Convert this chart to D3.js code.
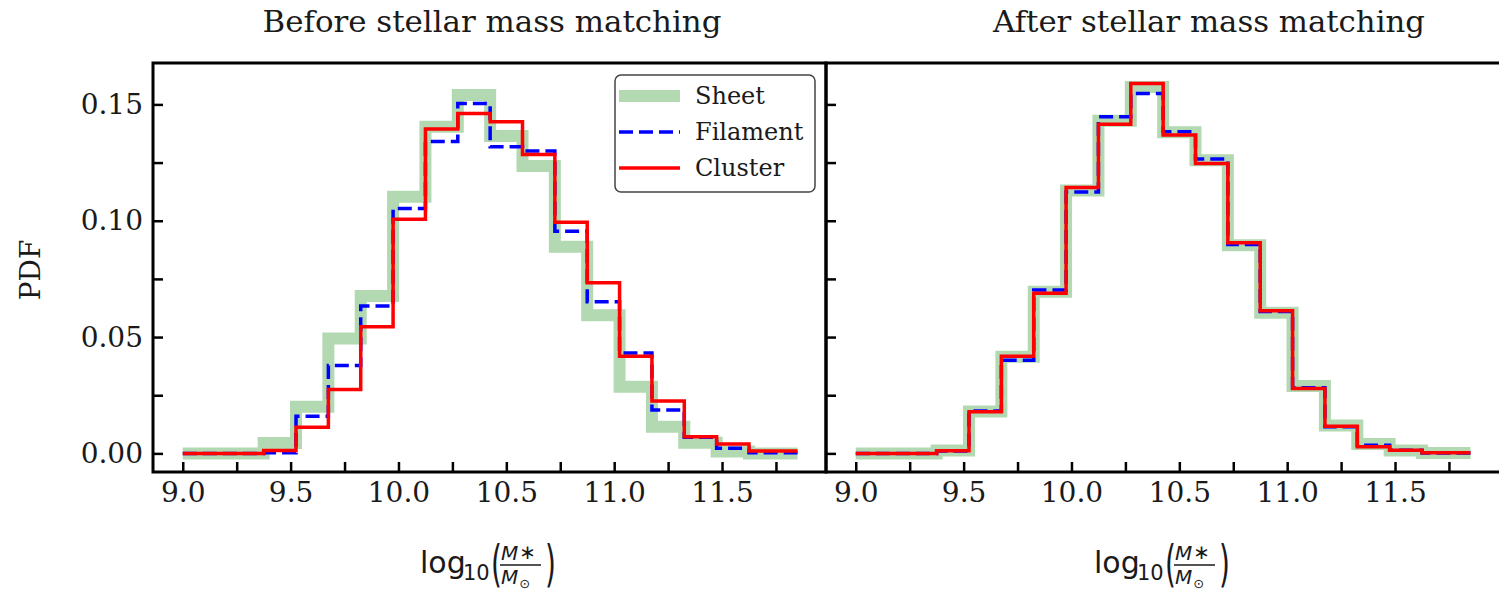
<!DOCTYPE html>
<html>
<head>
<meta charset="utf-8">
<script src="https://cdn.jsdelivr.net/npm/d3@7"></script>
<style>
  body { margin: 0; background: #fff; }
  svg { display: block; }
</style>
</head>
<body>
<script>
// bin edges shared by every histogram (the first and last bins are wider)
var binEdges = [9.0, 9.375, 9.525, 9.675, 9.825, 9.975, 10.125, 10.275, 10.425, 10.575,
    10.725, 10.875, 11.025, 11.175, 11.325, 11.475, 11.625, 11.85];

// before stellar mass matching
var sheetBefore = [0, 0.0045, 0.0200, 0.0494, 0.0676, 0.1103, 0.1404, 0.1540, 0.1364, 0.1235,
    0.0888, 0.0594, 0.0286, 0.0114, 0.0046, 0.0008, 0.0];
var filamentBefore = [0, 0.0003, 0.0160, 0.0378, 0.0633, 0.1053, 0.1341, 0.1504, 0.1318, 0.1300,
    0.0955, 0.0652, 0.0432, 0.0186, 0.0069, 0.0022, 0.0003];
var clusterBefore = [0, 0.0012, 0.0112, 0.0275, 0.0544, 0.1006, 0.1394, 0.1461, 0.1425, 0.1285,
    0.0993, 0.0733, 0.0418, 0.0225, 0.0071, 0.0040, 0.0010];

// after stellar mass matching
var sheetAfter = [0, 0.0012, 0.0180, 0.0415, 0.0695, 0.1130, 0.1430, 0.1575, 0.1380, 0.1260,
    0.0895, 0.0605, 0.0290, 0.0120, 0.0040, 0.0012, 0.0002];
var filamentAfter = [0, 0.0010, 0.0182, 0.0400, 0.0702, 0.1124, 0.1447, 0.1547, 0.1382, 0.1265,
    0.0898, 0.0610, 0.0282, 0.0115, 0.0035, 0.0013, 0.0002];
var clusterAfter = [0, 0.0011, 0.0179, 0.0418, 0.0688, 0.1143, 0.1415, 0.1590, 0.1368, 0.1246,
    0.0905, 0.0613, 0.0279, 0.0117, 0.0029, 0.0014, 0.0003];

var seriesNames = ["Sheet", "Filament", "Cluster"];
var panelTitles = ["Before stellar mass matching", "After stellar mass matching"];

var xTicks = [9.0, 9.25, 9.5, 9.75, 10.0, 10.25, 10.5, 10.75, 11.0, 11.25, 11.5, 11.75];
var xTickLabels = [9.0, 9.5, 10.0, 10.5, 11.0, 11.5];
var yTicks = [0, 0.025, 0.05, 0.075, 0.1, 0.125, 0.15];
var yTickLabels = [0, 0.05, 0.1, 0.15];

var margin = { top: 63, left: 153 },
    width = 673,
    height = 409;

var serif = "'DejaVu Serif', serif";
var sans = "'DejaVu Sans', sans-serif";

var svg = d3.select("body").append("svg")
    .attr("width", 1499)
    .attr("height", 592);

var xScale = d3.scaleLinear().domain([8.862, 11.982]).range([0, width]);
var yScale = d3.scaleLinear().domain([-0.008, 0.1678]).range([height, 0]);

var stepLine = d3.line()
    .x(function(d) { return xScale(d[0]); })
    .y(function(d) { return yScale(d[1]); })
    .curve(d3.curveStepAfter);

function stepPoints(vals) {
    return binEdges.map(function(e, i) { return [e, vals[Math.min(i, vals.length - 1)]]; });
}

var styles = [
    { color: "#b2d9b2", width: 12, dash: null },
    { color: "#0000ff", width: 3.5, dash: "14,6" },
    { color: "#ff0000", width: 3.5, dash: null }
];

var panels = [
    { left: margin.left, series: [sheetBefore, filamentBefore, clusterBefore], labels: true,
      titleX: 492, titleW: 459, legend: true, frameW: width },
    // the right frame edge is cut off in the original figure
    { left: margin.left + width, series: [sheetAfter, filamentAfter, clusterAfter], labels: false,
      titleX: 1209, titleW: 432, legend: false, frameW: width + 6 }
];

panels.forEach(function(p, pi) {
    var g = svg.append("g").attr("transform", "translate(" + p.left + "," + margin.top + ")");

    p.series.forEach(function(vals, si) {
        g.append("path")
            .datum(stepPoints(vals))
            .attr("d", stepLine)
            .attr("fill", "none")
            .attr("stroke", styles[si].color)
            .attr("stroke-width", styles[si].width)
            .attr("stroke-dasharray", styles[si].dash)
            .attr("stroke-linejoin", "miter");
    });

    var xAxis = d3.axisBottom(xScale)
        .tickValues(xTicks)
        .tickSizeInner(-10)
        .tickSizeOuter(0)
        .tickPadding(10)
        .tickFormat(function(d) {
            return xTickLabels.some(function(v) { return Math.abs(v - d) < 1e-9; }) ? d3.format(".1f")(d) : "";
        });

    var yAxis = d3.axisLeft(yScale)
        .tickValues(yTicks)
        .tickSizeInner(-10)
        .tickSizeOuter(0)
        .tickPadding(10)
        .tickFormat(function(d) {
            if (!p.labels) return "";
            return yTickLabels.some(function(v) { return Math.abs(v - d) < 1e-9; }) ? d3.format(".2f")(d) : "";
        });

    var gx = g.append("g").attr("transform", "translate(0," + height + ")").call(xAxis);
    var gy = g.append("g").call(yAxis);

    [gx, gy].forEach(function(ax) {
        ax.select(".domain").remove();
        ax.selectAll(".tick line").attr("stroke", "#000").attr("stroke-width", 2.5);
        ax.selectAll(".tick text")
            .attr("fill", "#1a1a1a")
            .style("font-family", serif)
            .style("font-size", "28px");
    });

    // frame
    g.append("rect")
        .attr("width", p.frameW)
        .attr("height", height)
        .attr("fill", "none")
        .attr("stroke", "#000")
        .attr("stroke-width", 3);

    svg.append("text")
        .attr("x", p.titleX)
        .attr("y", 32)
        .attr("text-anchor", "middle")
        .attr("textLength", p.titleW)
        .attr("lengthAdjust", "spacingAndGlyphs")
        .style("font-family", serif)
        .style("font-size", "30px")
        .attr("fill", "#1a1a1a")
        .text(panelTitles[pi]);

    drawXLabel(420 + pi * 674);

    if (p.legend) {
        var lg = svg.append("g").attr("transform", "translate(615,75)");
        lg.append("rect")
            .attr("width", 200)
            .attr("height", 117)
            .attr("rx", 6)
            .attr("fill", "#fff")
            .attr("stroke", "#444")
            .attr("stroke-width", 1.5);
        seriesNames.forEach(function(name, i) {
            var yy = 21 + i * 36;
            lg.append("line")
                .attr("x1", 4).attr("x2", 65)
                .attr("y1", yy).attr("y2", yy)
                .attr("stroke", styles[i].color)
                .attr("stroke-width", styles[i].width)
                .attr("stroke-dasharray", styles[i].dash);
            lg.append("text")
                .attr("x", 80)
                .attr("y", yy + 8)
                .style("font-family", serif)
                .style("font-size", "24px")
                .attr("fill", "#1a1a1a")
                .text(name);
        });
    }
});

svg.append("text")
    .attr("transform", "translate(40,270) rotate(-90)")
    .attr("text-anchor", "middle")
    .style("font-family", serif)
    .style("font-size", "28px")
    .attr("fill", "#1a1a1a")
    .text("PDF");

// log10(M*/Msun) in the mathtext look
function drawXLabel(x0) {
    var lab = svg.append("g").attr("transform", "translate(" + x0 + ",0)").attr("fill", "#1a1a1a");
    lab.append("text").attr("x", 0).attr("y", 573)
        .style("font-family", sans).style("font-size", "30px").text("log");
    lab.append("text").attr("x", 43).attr("y", 580)
        .style("font-family", sans).style("font-size", "21px").text("10");
    lab.append("text").attr("transform", "translate(71,581) scale(1,1.75)")
        .style("font-family", sans).style("font-size", "28px").text("(");
    lab.append("text").attr("transform", "translate(125,581) scale(1,1.75)")
        .style("font-family", sans).style("font-size", "28px").text(")");
    var num = lab.append("text").attr("x", 81).attr("y", 560)
        .style("font-family", sans).style("font-size", "20px");
    num.append("tspan").style("font-style", "italic").text("M");
    num.append("tspan").attr("dx", 1).attr("dy", -1).style("font-size", "20px").text("∗");
    lab.append("line")
        .attr("x1", 80).attr("x2", 121)
        .attr("y1", 565).attr("y2", 565)
        .attr("stroke", "#1a1a1a").attr("stroke-width", 1.5);
    var den = lab.append("text").attr("x", 81).attr("y", 584)
        .style("font-family", sans).style("font-size", "20px");
    den.append("tspan").style("font-style", "italic").text("M");
    den.append("tspan").attr("dx", 1).attr("dy", 4).style("font-size", "13px").text("⊙");
}
</script>
</body>
</html>
